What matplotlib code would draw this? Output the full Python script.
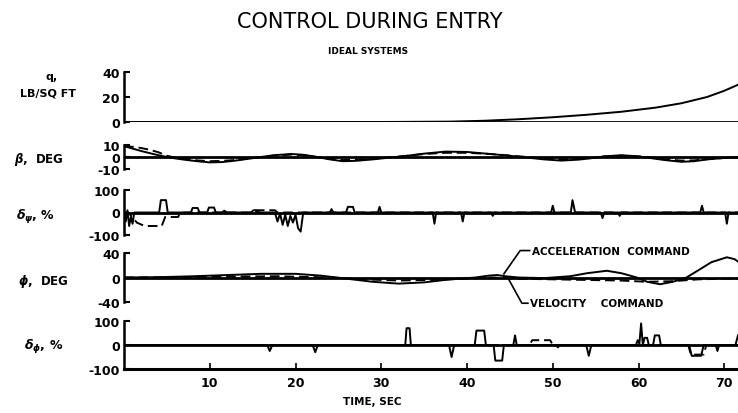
import matplotlib
matplotlib.use("Agg")
import matplotlib.pyplot as plt
import numpy as np

plt.rcParams['font.family'] = ['DejaVu Sans']
plt.rcParams['font.weight'] = 'bold'
plt.rcParams['mathtext.fontset'] = 'dejavusans'
plt.rcParams['axes.unicode_minus'] = False

# dynamic pressure, lb/sq ft
q_t = [0, 30, 38, 42, 46, 50, 54, 58, 62, 65, 68, 70, 72]
q_v = [0, 0, 0.3, 1, 2.2, 3.8, 5.8, 8.2, 11.5, 15, 20, 25, 31]

# sideslip, deg (solid = acceleration cmd, dashed = velocity cmd)
beta_t = [0, 1, 2, 3, 4, 5, 6, 7, 8.5, 10, 11.5, 13, 14.5, 16, 17.5, 19.5, 21, 22.5, 24, 25.5, 27, 29, 31, 33,
          35, 37.5, 40, 42.7, 45, 47, 49, 51, 53, 54.5, 56, 58, 60, 61.5, 63, 65, 66.5, 68, 70, 72]
beta_s = [9, 7, 5, 3.2, 1.5, 0, -1.2, -2.2, -3.5, -4.5, -4.2, -3, -1.5, 0, 1.5, 2.5, 1.8, 0, -2, -3.5, -3.2, -2, -0.5, 1,
          2.8, 4.5, 4.2, 2.5, 1, -0.5, -2, -3, -2.2, -1, 0.5, 1.5, 0.5, -1, -2.5, -4, -3.5, -2, -0.8, 0]
beta_d = [9, 8.5, 7.5, 6, 4, 1, -0.5, -1.5, -2.8, -3.5, -3.2, -2.5, -1.2, 0, 1.2, 2, 1.5, 0, -1.5, -2.5, -2.5, -1.5, -0.3, 1,
          2.5, 3.5, 3.5, 2.5, 1.2, 0, -1.2, -2, -1.5, -0.8, 0.5, 1, 0.5, -0.5, -1.8, -3, -2.8, -1.8, -0.8, 0]

# yaw control, percent
dpsi_t = [0, 0.2, 0.4, 0.6, 0.8, 1.0, 1.2, 4.1, 4.3, 4.9, 5.1, 7.8, 8.0, 8.6, 8.8, 9.7, 9.9, 10.5, 10.7,
          11.4, 11.7, 12.0, 14.8, 15.1, 15.5, 15.8, 17.6, 17.9, 18.2, 18.5, 18.8, 19.1, 19.4, 19.7, 20.0,
          20.3, 20.6, 20.9, 24.0, 24.2, 24.4, 25.9, 26.1, 26.7, 26.9, 29.6, 29.8, 30.0, 36.0, 36.2, 36.4,
          39.3, 39.5, 39.7, 42.8, 43.0, 43.2, 49.8, 50.0, 50.2, 52.1, 52.3, 52.6, 55.6, 55.8, 56.0, 57.6,
          57.8, 58.0, 67.2, 67.4, 67.6, 70.1, 70.3, 70.5, 72]
dpsi_v = [0, -40, 10, -60, -20, -50, 0, 0, 55, 55, 0, 0, 20, 20, 0, 0, 22, 22, 0,
          0, 8, 0, 0, 10, 10, 0, 0, -40, -5, -55, -10, -60, -15, -45, -10,
          -70, -85, 0, 0, 15, 0, 0, 25, 25, 0, 0, 25, 0, 0, -50, 0,
          0, -40, 0, 0, -15, 0, 0, 30, 0, 0, 55, 0, 0, -25, 0, 0,
          -15, 0, 0, 30, 0, 0, -50, 0, 0]
dpsi_dt = [0, 0.5, 1.5, 2.4, 4.4, 4.8, 6.3, 6.6, 15.3, 15.6, 17.6, 17.9, 72]
dpsi_dv = [0, 0, -45, -60, -60, -20, -20, 0, 0, 10, 10, 0, 0]

# bank angle, deg
phi_t = [0, 4, 8, 12, 16, 20, 23, 26, 29, 32, 35, 38, 41, 42.5, 43.5, 44.5, 46, 49, 52, 54, 56.3, 58,
         59.8, 61, 62.5, 64, 65.6, 67, 68.5, 70.3, 71.2, 72]
phi_v = [0, 0.5, 2, 4, 6, 6, 3, -2, -7, -10, -8, -3, 0, 3, 4, 2, 0, -1, 2, 7, 11, 7,
         0, -7, -11, -7, 0, 12, 25, 33, 30, 22]
phi_dt = [0, 6, 12, 18, 24, 28, 32, 36, 40, 43, 46, 50, 54, 58, 61, 64, 67, 70, 72]
phi_dv = [0, 0.5, 1.5, 2, 0, -3, -5, -4, -2, 0, -2, -3, -4, -5, -7, -6, -3, -2, -2]

# roll control, percent
dphi_t = [0, 16.7, 17.0, 17.3, 22.0, 22.3, 22.6, 32.8, 32.95, 33.3, 33.45, 37.9, 38.2, 38.5, 40.9, 41.1,
          42.0, 42.2, 43.1, 43.3, 44.1, 44.3, 45.4, 45.6, 45.8, 50.4, 50.6, 50.8, 53.9, 54.2, 54.5, 59.7,
          59.9, 60.1, 60.3, 60.5, 60.7, 61.0, 61.2, 61.7, 61.9, 62.4, 62.6, 65.9, 66.2, 67.3, 67.6, 69.0,
          69.2, 69.4, 71.3, 71.6]
dphi_v = [0, 0, -25, 0, 0, -30, 0, 0, 70, 70, 0, 0, -50, 0, 0, 60,
          60, 0, 0, -65, -65, 0, 0, 40, 0, 0, -10, 0, 0, -45, 0, 0,
          20, 5, 90, 0, 30, 30, 0, 0, 40, 40, 0, 0, -45, -45, 0, 0,
          -25, 0, 0, 40]
dphi_dt = [0, 47.3, 47.6, 49.7, 50.0, 65.8, 66.1, 67.6, 67.9, 72]
dphi_dv = [0, 0, 20, 20, 0, 0, -40, -40, 0, 0]

x_ticks = [10, 20, 30, 40, 50, 60, 70]

W, H = 738, 414
fig = plt.figure(figsize=(W / 100, H / 100), dpi=100)


def rect(top, bottom, left=124):
    return [left / W, 1 - bottom / H, 1 - left / W, (bottom - top) / H]


dash = (0, (5, 2.5))
lw = 1.4

panels = [
    (rect(73, 123), (0, 40), [0, 20, 40]),
    (rect(146, 170), (-10, 10), [-10, 0, 10]),
    (rect(191, 236), (-100, 100), [-100, 0, 100]),
    (rect(254, 303), (-40, 40), [-40, 0, 40]),
    (rect(322, 370), (-100, 100), [-100, 0, 100]),
]
axes = []
for pos, yl, yt in panels:
    ax = fig.add_axes(pos)
    ax.set_xlim(0, 71.6)
    ax.set_ylim(*yl)
    ax.set_yticks(yt)
    ax.tick_params(axis='y', direction='in', length=4, width=1.5, labelsize=9, pad=3)
    for s in ['top', 'right', 'bottom']:
        ax.spines[s].set_visible(False)
    ax.spines['left'].set_linewidth(1.8)
    ax.axhline(0, color='k', lw=2.0)
    ax.set_xticks([])
    ax.patch.set_alpha(0)
    axes.append(ax)

axes[0].plot(q_t, q_v, color='k', lw=lw)
axes[1].plot(beta_t, beta_s, color='k', lw=lw)
axes[1].plot(beta_t, beta_d, color='k', lw=lw, ls=dash)
axes[2].plot(dpsi_dt, dpsi_dv, color='k', lw=lw, ls=dash)
axes[2].plot(dpsi_t, dpsi_v, color='k', lw=lw)
axes[3].plot(phi_t, phi_v, color='k', lw=lw)
axes[3].plot(phi_dt, phi_dv, color='k', lw=lw, ls=dash)
axes[4].plot(dphi_dt, dphi_dv, color='k', lw=lw, ls=dash)
axes[4].plot(dphi_t, dphi_v, color='k', lw=lw)

# bottom time axis
axb = axes[4]
axb.spines['bottom'].set_visible(True)
axb.spines['bottom'].set_linewidth(2.2)
axb.set_xticks(x_ticks)
axb.tick_params(axis='x', direction='in', length=4, width=1.2, labelsize=9, pad=5)

# callouts on bank angle panel
axp = axes[3]
axp.plot([47.3, 46.2, 44.3], [44, 44, 6], color='k', lw=1.2, clip_on=False)
axp.plot([47.1, 46.4, 44.9], [-42, -42, -4], color='k', lw=1.2, clip_on=False)
axp.text(47.6, 44, 'ACCELERATION  COMMAND', fontsize=7.5, va='center', ha='left')
axp.text(47.4, -42, 'VELOCITY    COMMAND', fontsize=7.5, va='center', ha='left')


def ftext(x, y, s, **kw):
    fig.text(x / W, 1 - y / H, s, **kw)


ftext(370, 22, 'CONTROL DURING ENTRY', fontsize=15, fontweight='normal', ha='center', va='center')
ftext(368, 52, 'IDEAL SYSTEMS', fontsize=6.5, ha='center', va='center')
ftext(372, 402, 'TIME, SEC', fontsize=7.5, ha='center', va='center')

ftext(52, 77, 'q,', fontsize=8, ha='center', va='center')
ftext(48, 94, 'LB/SQ FT', fontsize=8, ha='center', va='center')
ftext(14, 160, r'$\beta$,  DEG', fontsize=8.5, ha='left', va='center')
ftext(16, 217, r'$\delta_\psi$, %', fontsize=9, ha='left', va='center')
ftext(18, 282, r'$\phi$,  DEG', fontsize=8.5, ha='left', va='center')
ftext(24, 347, r'$\delta_\phi$, %', fontsize=9, ha='left', va='center')

fig.savefig('out.png', dpi=100)
